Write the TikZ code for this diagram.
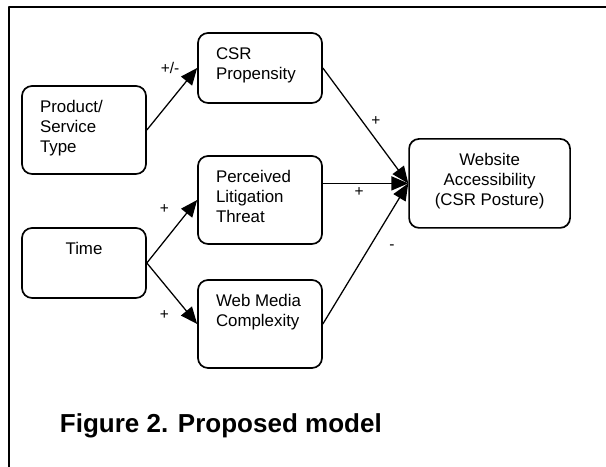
\documentclass[tikz,border=0pt]{standalone}
\usepackage{fontspec}
\setmainfont{Liberation Sans}
\usepackage{tikz}
\usetikzlibrary{arrows.meta}
\newcommand{\boxfont}{\fontsize{12}{14.2}\selectfont}
\newcommand{\signfont}{\fontsize{11}{13}\selectfont}
% text of a box: width, height, alignment, lines
\newcommand{\boxtext}[4]{\parbox[c][#2][t]{#1}{#3\rule{0pt}{0.675cm}#4}}
\newcommand{\lefttext}{\raggedright\leftskip=0.45cm}
\tikzset{
  block/.style={draw, rounded corners=0.25cm, line width=1.2pt, inner sep=0pt, font=\boxfont},
  link/.style={->, line width=0.9pt},
  sign/.style={font=\signfont, inner sep=2pt}
}

\begin{document}
\begin{tikzpicture}[line cap=round,line join=round,>={Triangle[length=12pt,width=10pt]},x=1.0cm,y=1.0cm]
            \useasboundingbox (0,0) rectangle (15.15,11.675);
            \draw [line width=1.4pt,line cap=butt] (0.225,-0.1) -- (0.225,11.5) -- (15.3,11.5);
            % boxes
            \node [block] (prod) at (2.1,8.425) {\boxtext{3.1cm}{2.2cm}{\lefttext}{Product/\\Service\\Type}};
            \node [block] (time) at (2.1,5.1) {\boxtext{3.1cm}{1.75cm}{\centering}{Time}};
            \node [block] (csr) at (6.5,9.975) {\boxtext{3.1cm}{1.75cm}{\lefttext}{CSR\\Propensity}};
            \node [block] (threat) at (6.5,6.675) {\boxtext{3.1cm}{2.2cm}{\lefttext}{Perceived\\Litigation\\Threat}};
            \node [block] (web) at (6.5,3.575) {\boxtext{3.1cm}{2.2cm}{\lefttext}{Web Media\\Complexity}};
            \node [block] (access) at (12.24,7.09) {\boxtext{4.025cm}{2.225cm}{\centering}{Website\\Accessibility\\(CSR Posture)}};
            % paths
            \draw [link] (prod.east) -- (csr.west) node [sign, pos=0.46, above=17pt] {+/-};
            \draw [link] (time.east) -- (threat.west) node [sign, pos=0.35, above=17pt] {+};
            \draw [link] (time.east) -- (web.west) node [sign, pos=0.35, below=16pt] {+};
            \draw [link] (csr.east) -- (access.west) node [sign, pos=0.62, above=7.5pt] {+};
            \draw [link] (threat.east |- access.west) -- (access.west) node [sign, pos=0.425, below=0.5pt] {+};
            \draw [link] (web.east) -- (access.west) node [sign, pos=0.55, right=11.5pt] {-};
            \node [anchor=base west, font=\bfseries\fontsize{18.5}{22}\selectfont] (caption) at (1.375,0.85) {Figure 2. Proposed model};
\end{tikzpicture}
\end{document}
